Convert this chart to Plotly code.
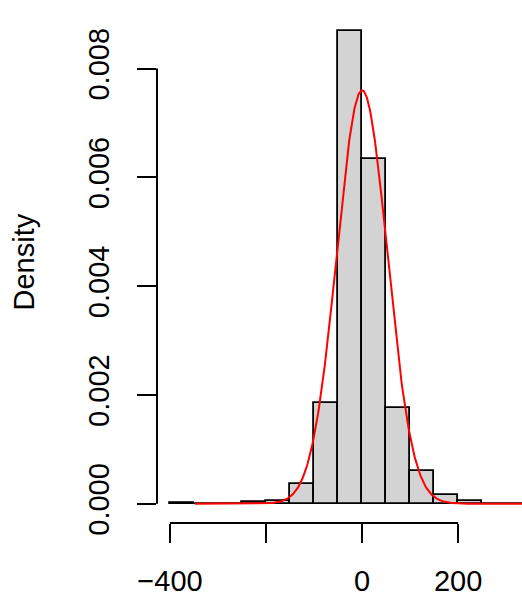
import numpy as np
import plotly.graph_objects as go

# Histogram bins (left edges, width 50) and their densities
bin_left = [-400, -350, -300, -250, -200, -150, -100, -50, 0, 50, 100, 150, 200, 250, 300]
bin_width = 50
density = [0.00001, 0.0, 0.0, 0.00003, 0.00006, 0.00037, 0.00186, 0.00869,
           0.00634, 0.00176, 0.00061, 0.00016, 0.00005, 0.0, 0.0]

# Fitted normal curve parameters
norm_mean = 0.0
norm_sd = 52.5
curve_from, curve_to = -348, 380

x_ticks = [-400, -200, 0, 200]
x_tick_text = ["\u2212400", "", "0", "200"]
y_ticks = [0.000, 0.002, 0.004, 0.006, 0.008]
y_tick_text = ["0.000", "0.002", "0.004", "0.006", "0.008"]

FONT = "Liberation Sans, Arial, Helvetica, sans-serif"
FS = 29

centers = [b + bin_width / 2 for b in bin_left]
xs = np.linspace(curve_from, curve_to, 600)
ys = np.exp(-0.5 * ((xs - norm_mean) / norm_sd) ** 2) / (norm_sd * np.sqrt(2 * np.pi))

fig = go.Figure()
fig.add_trace(go.Bar(
    x=centers, y=density, width=[bin_width] * len(centers),
    marker=dict(color="#D3D3D3", line=dict(color="black", width=1.8)),
    hoverinfo="skip",
))
fig.add_trace(go.Scatter(
    x=xs, y=ys, mode="lines",
    line=dict(color="red", width=2),
    hoverinfo="skip",
))

# R-style axis lines spanning only the first to last tick
fig.add_shape(type="line", xref="x", yref="paper",
              x0=x_ticks[0], x1=x_ticks[-1], y0=0, y1=0,
              line=dict(color="black", width=2))
fig.add_shape(type="line", xref="paper", yref="y",
              x0=0, x1=0, y0=y_ticks[0], y1=y_ticks[-1],
              line=dict(color="black", width=2))

fig.add_annotation(text="Density", textangle=-90, showarrow=False,
                   xref="paper", yref="paper", x=0, y=0.5,
                   xanchor="center", yanchor="middle", xshift=-134, yshift=5,
                   font=dict(family=FONT, size=FS, color="black"))

fig.update_layout(
    template="none",
    width=522, height=598,
    margin=dict(l=157, r=0, t=12, b=75, pad=0),
    paper_bgcolor="white", plot_bgcolor="white",
    showlegend=False, bargap=0,
    font=dict(family=FONT, size=FS, color="black"),
    xaxis=dict(range=[-427, 333], tickvals=x_ticks, ticktext=x_tick_text,
               automargin=False,
               ticks="outside", ticklen=19, tickwidth=2, tickcolor="black",
               showline=False, showgrid=False, zeroline=False,
               ticklabelstandoff=13,
               tickfont=dict(family=FONT, size=FS, color="black")),
    yaxis=dict(range=[-0.000353, 0.00904], tickvals=y_ticks, ticktext=y_tick_text,
               automargin=False, tickangle=-90,
               ticks="outside", ticklen=19, tickwidth=2, tickcolor="black",
               showline=False, showgrid=False, zeroline=False,
               ticklabelstandoff=16,
               tickfont=dict(family=FONT, size=FS, color="black")),
)

fig.write_html("out.html")
